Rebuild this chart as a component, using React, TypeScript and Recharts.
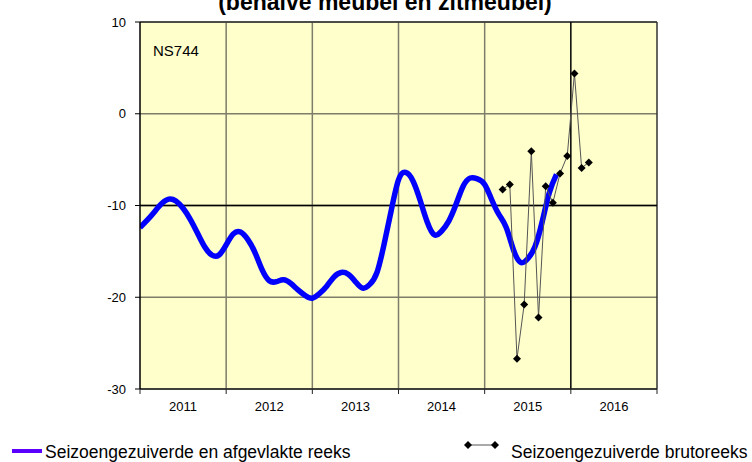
import { LineChart, Line, XAxis, YAxis, CartesianGrid, ReferenceLine } from 'recharts'

// x axis in months since Jan 2011
const years = ['2011', '2012', '2013', '2014', '2015', '2016']
const xTicks = [0, 6, 12, 18, 24, 30, 36, 42, 48, 54, 60, 66, 72]
const innerBounds = [12, 24, 36, 48]
const yTicks = [-30, -20, -10, 0, 10]

// seasonally adjusted and smoothed series, monthly from Jan 2011
const smoothValues = [
  -12.4, -11.6, -10.7, -9.8, -9.3, -9.5, -10.3, -11.5, -13.0, -14.5, -15.4, -15.4,
  -14.3, -13.1, -12.9, -13.7, -15.1, -17.0, -18.2, -18.3, -18.1, -18.5, -19.2, -19.8,
  -20.1, -19.6, -18.8, -17.8, -17.3, -17.5, -18.3, -19.0, -18.6, -17.3, -14.2, -10.5,
  -7.2, -6.4, -7.3, -9.4, -11.8, -13.2, -12.8, -11.7, -9.9, -7.9, -7.0, -7.1,
  -7.7, -9.4, -11.0, -12.4, -14.8, -16.2, -15.8, -14.5, -11.8, -8.6, -6.6,
]

// seasonally adjusted raw series, monthly from Mar 2015
const rawStartMonth = 50.5
const rawValues = [-8.25, -7.7, -26.7, -20.8, -4.1, -22.2, -7.9, -9.7, -6.5, -4.6, 4.4, -5.9, -5.3]

const smoothData = smoothValues.map((v, i) => ({ month: i, value: v }))
const rawData = rawValues.map((v, i) => ({ month: rawStartMonth + i, value: v }))

const font = 'Liberation Sans, Arial, sans-serif'

const Diamond = (props: any) => {
  const { cx, cy, index } = props
  if (cx == null || cy == null) return null
  const r = 4
  return (
    <polygon
      key={`d-${index}`}
      points={`${cx},${cy - r} ${cx + r},${cy} ${cx},${cy + r} ${cx - r},${cy}`}
      fill="#000"
    />
  )
}

// year boundaries get a small tick mark, mid-year ticks get the year label
const YearTick = (props: any) => {
  const { x, y, payload } = props
  const m = payload.value
  if (m % 12 === 0) {
    return <line x1={x} x2={x} y1={y} y2={y + 5} stroke="#222" strokeWidth={1} />
  }
  return (
    <text x={x} y={y + 22} textAnchor="middle" fontSize={13} fontFamily={font} fill="#000">
      {years[Math.floor(m / 12)]}
    </text>
  )
}

export default function App() {
  return (
    <div style={{ position: 'absolute', left: 0, top: 0, width: 752, height: 462, fontFamily: font }}>
      <LineChart width={752} height={462} margin={{ top: 22, right: 95, left: 0, bottom: 43 }}>
        <CartesianGrid fill="#ffffcc" stroke="#7d7d6a" strokeWidth={1.5} vertical={false} />
        <XAxis
          type="number"
          dataKey="month"
          domain={[0, 72]}
          ticks={xTicks}
          tick={<YearTick />}
          interval={0}
          tickLine={false}
          tickSize={0}
          tickMargin={0}
          height={30}
          axisLine={{ stroke: '#222', strokeWidth: 1.5 }}
          allowDataOverflow
        />
        <YAxis
          type="number"
          domain={[-30, 10]}
          ticks={yTicks}
          interval={0}
          width={140}
          tickSize={5}
          tickMargin={9}
          axisLine={{ stroke: '#000', strokeWidth: 1.5 }}
          tickLine={{ stroke: '#000' }}
          fontSize={13}
          tick={{ fill: '#000', fontSize: 13, fontFamily: font }}
          allowDataOverflow
        />
        {innerBounds.map((m) => (
          <ReferenceLine key={m} x={m} stroke="#7d7d6a" strokeWidth={1.5} />
        ))}
        <ReferenceLine y={10} stroke="#333" strokeWidth={1.5} />
        <ReferenceLine x={72} stroke="#333" strokeWidth={1.5} />
        <ReferenceLine y={-10} stroke="#000" strokeWidth={1.5} />
        <ReferenceLine x={60} stroke="#000" strokeWidth={1.5} />
        <Line
          data={smoothData}
          dataKey="value"
          type="natural"
          stroke="#0000ff"
          strokeWidth={5.5}
          dot={false}
          isAnimationActive={false}
        />
        <Line
          data={rawData}
          dataKey="value"
          type="linear"
          stroke="#555"
          strokeWidth={1}
          dot={<Diamond />}
          isAnimationActive={false}
        />
      </LineChart>
      <svg
        width={752}
        height={462}
        style={{ position: 'absolute', left: 0, top: 0, pointerEvents: 'none' }}
      >
        <text x={385} y={10} textAnchor="middle" fontSize={23} fontWeight="bold" fontFamily={font} fill="#000">
          (behalve meubel en zitmeubel)
        </text>
        <text x={153} y={56} fontSize={15} fontFamily={font} fill="#000">
          NS744
        </text>
        <line x1={12} x2={42} y1={451} y2={451} stroke="#5a00ff" strokeWidth={4} />
        <text x={45} y={458} fontSize={17.5} fontFamily={font} fill="#000">
          Seizoengezuiverde en afgevlakte reeks
        </text>
        <line x1={468} x2={495} y1={445} y2={445} stroke="#555" strokeWidth={1} />
        <polygon points="468,441 472,445 468,449 464,445" fill="#000" />
        <polygon points="495,441 499,445 495,449 491,445" fill="#000" />
        <text x={511} y={458} fontSize={17.5} fontFamily={font} fill="#000">
          Seizoengezuiverde brutoreeks
        </text>
      </svg>
    </div>
  )
}
